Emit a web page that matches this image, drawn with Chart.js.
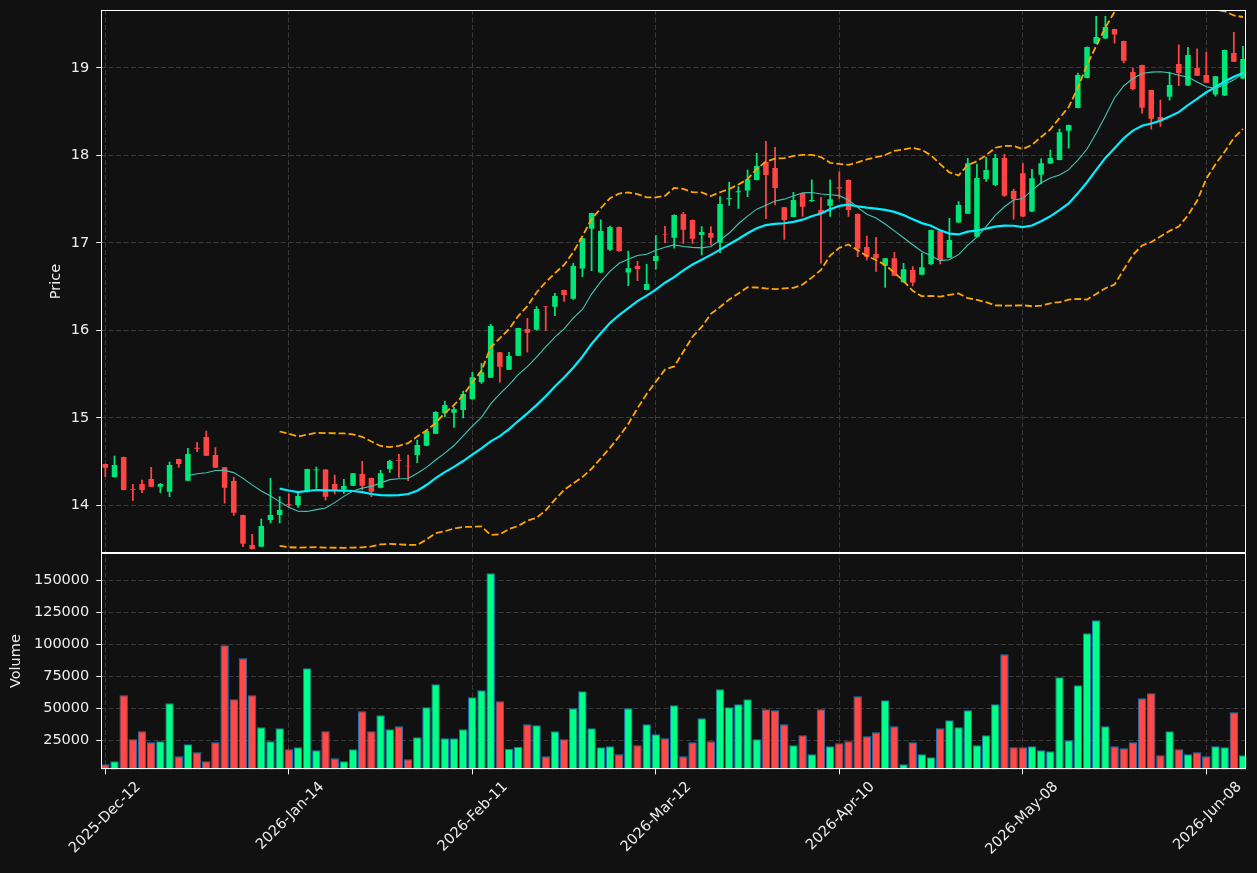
<!DOCTYPE html>
<html>
<head>
<meta charset="utf-8">
<script src="https://cdn.jsdelivr.net/npm/chart.js@4.4.1/dist/chart.umd.min.js"></script>
<style>
  html, body { margin: 0; padding: 0; background: #111111; }
  #wrap { position: relative; width: 1257px; height: 873px; }
  canvas { display: block; }
</style>
</head>
<body>
<div id="wrap"><canvas id="chart" width="1257" height="873"></canvas></div>
<script>
// ---------------- data ----------------
const tickIndex  = [0, 20, 40, 60, 80, 100, 120];
const tickLabels = ['2025-Dec-12', '2026-Jan-14', '2026-Feb-11', '2026-Mar-12', '2026-Apr-10', '2026-May-08', '2026-Jun-08'];
const priceTicks  = [14, 15, 16, 17, 18, 19];
const volumeTicks = [25000, 50000, 75000, 100000, 125000, 150000];

const opens = [
  14.472, 14.323, 14.552, 14.186, 14.243, 14.300, 14.213, 14.156, 14.529, 14.281,
  14.657, 14.780, 14.575, 14.434, 14.278, 13.888, 13.546, 13.527, 13.832, 13.888,
  14.015, 14.003, 14.156, 14.400, 14.408, 14.243, 14.183, 14.224, 14.358, 14.312,
  14.201, 14.415, 14.518, 14.453, 14.575, 14.682, 14.819, 15.051, 15.058, 15.089,
  15.214, 15.406, 15.459, 15.749, 15.549, 15.710, 16.015, 16.007, 16.274, 16.270,
  16.460, 16.361, 16.705, 17.161, 16.659, 16.921, 17.181, 16.659, 16.735, 16.460,
  16.792, 17.096, 17.058, 17.329, 17.261, 17.089, 17.112, 17.001, 17.497, 17.577,
  17.596, 17.718, 17.923, 17.855, 17.405, 17.295, 17.566, 17.474, 17.375, 17.424,
  17.634, 17.718, 17.329, 16.952, 16.871, 16.738, 16.822, 16.549, 16.690, 16.636,
  16.754, 17.134, 16.830, 17.231, 17.333, 17.070, 17.728, 17.660, 17.968, 17.591,
  17.794, 17.356, 17.778, 17.905, 17.946, 18.281, 18.541, 18.884, 19.276, 19.333,
  19.443, 19.306, 18.952, 19.032, 18.746, 18.437, 18.670, 19.043, 18.796, 18.997,
  18.918, 18.693, 18.682, 19.169, 18.876
];
const highs = [
  14.472, 14.563, 14.552, 14.240, 14.289, 14.434, 14.250, 14.495, 14.529, 14.651,
  14.720, 14.849, 14.660, 14.434, 14.320, 13.888, 13.668, 13.843, 14.308, 14.099,
  14.130, 14.156, 14.415, 14.438, 14.408, 14.346, 14.296, 14.366, 14.503, 14.312,
  14.400, 14.518, 14.583, 14.575, 14.746, 14.849, 15.070, 15.192, 15.120, 15.306,
  15.520, 15.623, 16.068, 15.749, 15.749, 16.026, 16.137, 16.270, 16.274, 16.422,
  16.460, 16.765, 17.051, 17.340, 17.261, 17.192, 17.181, 16.906, 16.788, 16.753,
  17.081, 17.188, 17.318, 17.348, 17.261, 17.184, 17.184, 17.527, 17.695, 17.642,
  17.832, 18.023, 18.160, 18.091, 17.405, 17.577, 17.566, 17.718, 17.520, 17.718,
  17.810, 17.718, 17.330, 17.077, 17.062, 16.822, 16.890, 16.765, 16.727, 16.879,
  17.146, 17.134, 17.280, 17.470, 17.966, 17.900, 17.977, 18.010, 18.010, 17.614,
  17.909, 17.839, 17.958, 18.060, 18.300, 18.346, 18.940, 19.238, 19.589, 19.589,
  19.443, 19.306, 18.997, 19.032, 18.746, 18.632, 18.952, 19.261, 19.234, 19.215,
  19.177, 18.903, 19.203, 19.406, 19.245
];
const lows = [
  14.327, 14.320, 14.175, 14.053, 14.145, 14.213, 14.145, 14.099, 14.434, 14.280,
  14.613, 14.567, 14.430, 14.023, 13.885, 13.527, 13.500, 13.527, 13.800, 13.800,
  13.980, 13.977, 14.149, 14.194, 14.060, 14.130, 14.137, 14.224, 14.175, 14.098,
  14.200, 14.377, 14.320, 14.282, 14.488, 14.680, 14.819, 15.013, 14.891, 15.000,
  15.210, 15.394, 15.459, 15.406, 15.549, 15.710, 15.749, 16.000, 15.996, 16.167,
  16.330, 16.354, 16.613, 16.681, 16.659, 16.910, 16.900, 16.510, 16.567, 16.460,
  16.697, 17.001, 16.937, 16.994, 16.994, 16.861, 16.975, 16.888, 17.428, 17.394,
  17.527, 17.718, 17.275, 17.436, 17.039, 17.295, 17.300, 17.474, 16.766, 17.300,
  17.508, 17.300, 16.842, 16.803, 16.674, 16.491, 16.620, 16.549, 16.507, 16.636,
  16.754, 16.758, 16.830, 17.230, 17.333, 17.070, 17.702, 17.652, 17.530, 17.269,
  17.299, 17.356, 17.673, 17.905, 17.946, 18.080, 18.541, 18.884, 19.276, 19.333,
  19.280, 19.055, 18.747, 18.480, 18.297, 18.331, 18.629, 18.796, 18.796, 18.910,
  18.830, 18.674, 18.682, 19.070, 18.876
];
const closes = [
  14.430, 14.460, 14.175, 14.178, 14.175, 14.213, 14.243, 14.460, 14.472, 14.586,
  14.646, 14.567, 14.430, 14.201, 13.916, 13.561, 13.500, 13.763, 13.888, 13.946,
  14.005, 14.106, 14.415, 14.408, 14.098, 14.175, 14.220, 14.366, 14.224, 14.156,
  14.366, 14.506, 14.510, 14.445, 14.689, 14.849, 15.066, 15.146, 15.097, 15.272,
  15.463, 15.520, 16.049, 15.584, 15.706, 16.026, 15.973, 16.243, 16.270, 16.392,
  16.403, 16.735, 17.051, 17.340, 17.135, 17.181, 16.906, 16.709, 16.701, 16.529,
  16.849, 17.088, 17.318, 17.150, 17.047, 17.123, 17.058, 17.443, 17.508, 17.588,
  17.726, 17.878, 17.775, 17.626, 17.261, 17.489, 17.413, 17.489, 17.337, 17.497,
  17.619, 17.375, 16.933, 16.841, 16.826, 16.822, 16.624, 16.697, 16.545, 16.720,
  17.146, 16.803, 17.032, 17.432, 17.909, 17.740, 17.831, 17.968, 17.538, 17.496,
  17.299, 17.737, 17.909, 17.968, 18.263, 18.346, 18.918, 19.238, 19.352, 19.466,
  19.379, 19.081, 18.758, 18.544, 18.418, 18.395, 18.804, 18.940, 19.146, 18.910,
  18.830, 18.903, 19.203, 19.070, 19.100
];
const volumes = [
   6200,   8600,  60200,  25800,  32000,  23400,  24200,  53900,  12500,  21900,
  15600,   8600,  23400,  99200,  57000,  89100,  60200,  35200,  24200,  34400,
  18000,  19500,  81300,  17200,  32000,  10900,   8600,  18000,  47700,  32000,
  44500,  33600,  35900,  10200,  27300,  50800,  68800,  26600,  26600,  33600,
  58600,  64100, 155500,  55500,  18400,  20000,  37500,  36700,  12500,  32000,
  25800,  50000,  63300,  34400,  19500,  20300,  14100,  50000,  21100,  37500,
  29700,  26600,  52300,  12500,  23400,  42200,  24200,  64800,  50800,  53100,
  57000,  25800,  49200,  48400,  37500,  21100,  28900,  14100,  49200,  20300,
  22700,  24200,  59400,  28100,  31300,  56300,  35900,   6200,  23400,  14100,
  11700,  34400,  40600,  35200,  48400,  21100,  28900,  53100,  92200,  19500,
  19500,  20300,  17200,  16400,  74200,  25000,  68000, 108600, 118800,  35900,
  20300,  18800,  23400,  57800,  61700,  13300,  32000,  18000,  14100,  15600,
  12500,  20300,  19500,  46900,  13300
];

// indicator settings (as in the reference: 10/20 moving averages, 20-period 2-sigma bands)
const MA_FAST = 10;
const MA_SLOW = 20;
const BB_K = 2;

// ---------------- derived series ----------------
function rollingMean(arr, n) {
  return arr.map((_, i) => {
    if (i < n - 1) return null;
    let s = 0;
    for (let k = i - n + 1; k <= i; k++) s += arr[k];
    return s / n;
  });
}
function rollingStd(arr, n) {
  const m = rollingMean(arr, n);
  return arr.map((_, i) => {
    if (i < n - 1) return null;
    let s = 0;
    for (let k = i - n + 1; k <= i; k++) s += (arr[k] - m[i]) ** 2;
    return Math.sqrt(s / n);
  });
}
const maFast = rollingMean(closes, MA_FAST);
const maSlow = rollingMean(closes, MA_SLOW);
const sd = rollingStd(closes, MA_SLOW);
const bbUpper = maSlow.map((v, i) => v === null ? null : v + BB_K * sd[i]);
const bbLower = maSlow.map((v, i) => v === null ? null : v - BB_K * sd[i]);

const pts = arr => arr.map((v, i) => ({ x: i, y: v }));

// ---------------- styles ----------------
const TEXT = '#eeeeee';
const SPINE = '#ffffff';
const GRID = '#3a3a3a';
const UP = '#00e676', DOWN = '#ff4444';
const VUP = '#00ff88', VDOWN = '#ff4848';
const FONT = { family: 'DejaVu Sans', size: 14.5 };
const isUp = i => closes[i] >= opens[i];

Chart.defaults.font.family = 'DejaVu Sans';

const spines = {
  id: 'spines',
  afterDraw(chart) {
    const { ctx, chartArea: a, scales } = chart;
    ctx.save();
    ctx.strokeStyle = SPINE;
    ctx.lineWidth = 1;
    for (const id of ['y', 'yv']) {
      const s = scales[id];
      const l = Math.round(a.left) + 0.5, r = Math.round(a.right) - 0.5;
      const t = Math.round(s.top) + 0.5, b = Math.round(s.bottom) - 0.5;
      ctx.strokeRect(l, t, r - l, b - t);
    }
    ctx.restore();
  }
};

const yCommon = {
  type: 'linear',
  position: 'left',
  stack: 'panels',
  afterFit: s => { s.width = 101.3; s.paddingTop = 0; s.paddingBottom = 0; },
  ticks: { color: TEXT, font: FONT, padding: 7, callback: v => String(v) },
  grid: { color: GRID, lineWidth: 1, tickColor: SPINE, tickLength: 5, tickWidth: 1, tickBorderDash: [] },
  border: { display: false, dash: [5, 2.5] }
};

new Chart(document.getElementById('chart'), {
  data: {
    datasets: [
      { type: 'line', label: 'MA' + MA_FAST, data: pts(maFast), yAxisID: 'y', xAxisID: 'x',
        borderColor: '#3fc7b5', borderWidth: 1.1, pointRadius: 0, tension: 0, order: 0 },
      { type: 'line', label: 'MA' + MA_SLOW, data: pts(maSlow), yAxisID: 'y', xAxisID: 'x',
        borderColor: '#00f0ff', borderWidth: 2.2, pointRadius: 0, tension: 0, order: 0 },
      { type: 'line', label: 'BB upper', data: pts(bbUpper), yAxisID: 'y', xAxisID: 'x',
        borderColor: '#ffa500', borderWidth: 1.8, borderDash: [7, 3], pointRadius: 0, tension: 0, order: 0 },
      { type: 'line', label: 'BB lower', data: pts(bbLower), yAxisID: 'y', xAxisID: 'x',
        borderColor: '#ffa500', borderWidth: 1.8, borderDash: [7, 3], pointRadius: 0, tension: 0, order: 0 },
      { type: 'bar', label: 'body', data: opens.map((o, i) => ({ x: i, y: [o, closes[i]] })),
        yAxisID: 'y', xAxisID: 'x', grouped: false, categoryPercentage: 1, barPercentage: 0.6,
        backgroundColor: c => isUp(c.dataIndex) ? UP : DOWN, order: 1 },
      { type: 'bar', label: 'wick', data: highs.map((h, i) => ({ x: i, y: [lows[i], h] })),
        yAxisID: 'y', xAxisID: 'x', grouped: false, barThickness: 1.1,
        backgroundColor: c => isUp(c.dataIndex) ? UP : DOWN, order: 2 },
      { type: 'bar', label: 'Volume', data: pts(volumes), yAxisID: 'yv', xAxisID: 'x',
        grouped: false, categoryPercentage: 1, barPercentage: 0.92,
        backgroundColor: c => isUp(c.dataIndex) ? VUP : VDOWN,
        borderColor: '#1f77b4', borderWidth: 1, order: 3 }
    ]
  },
  options: {
    responsive: false,
    animation: false,
    devicePixelRatio: 1,
    layout: { padding: { top: 10, right: 10.7, left: 0, bottom: 0 } },
    plugins: { legend: { display: false }, tooltip: { enabled: false } },
    scales: {
      x: {
        type: 'linear', position: 'bottom', min: -0.44, max: 124.36, offset: false,
        afterBuildTicks: s => { s.ticks = tickIndex.map(v => ({ value: v })); },
        afterFit: s => { s.height = 103.7; s.paddingLeft = 0; s.paddingRight = 0; },
        ticks: {
          color: TEXT, font: FONT, autoSkip: false, minRotation: 45, maxRotation: 45,
          padding: 4, labelOffset: 33,
          callback: v => { const k = tickIndex.indexOf(v); return k >= 0 ? tickLabels[k] : ''; }
        },
        grid: { offset: false, color: GRID, lineWidth: 1, tickColor: SPINE, tickLength: 5, tickWidth: 1, tickBorderDash: [] },
        border: { display: false, dash: [5, 2.5] }
      },
      y: Object.assign({}, yCommon, {
        stackWeight: 543, weight: 2, min: 13.455, max: 19.66,
        afterBuildTicks: s => { s.ticks = priceTicks.map(v => ({ value: v })); },
        title: { display: true, text: 'Price', color: TEXT, font: FONT, padding: { top: 48, bottom: 0 } }
      }),
      yv: Object.assign({}, yCommon, {
        stackWeight: 216.3, weight: 1, min: 2344, max: 171328,
        afterBuildTicks: s => { s.ticks = volumeTicks.map(v => ({ value: v })); },
        title: { display: true, text: 'Volume', color: TEXT, font: FONT, padding: { top: 8, bottom: 0 } }
      })
    }
  },
  plugins: [spines]
});
</script>
</body>
</html>
